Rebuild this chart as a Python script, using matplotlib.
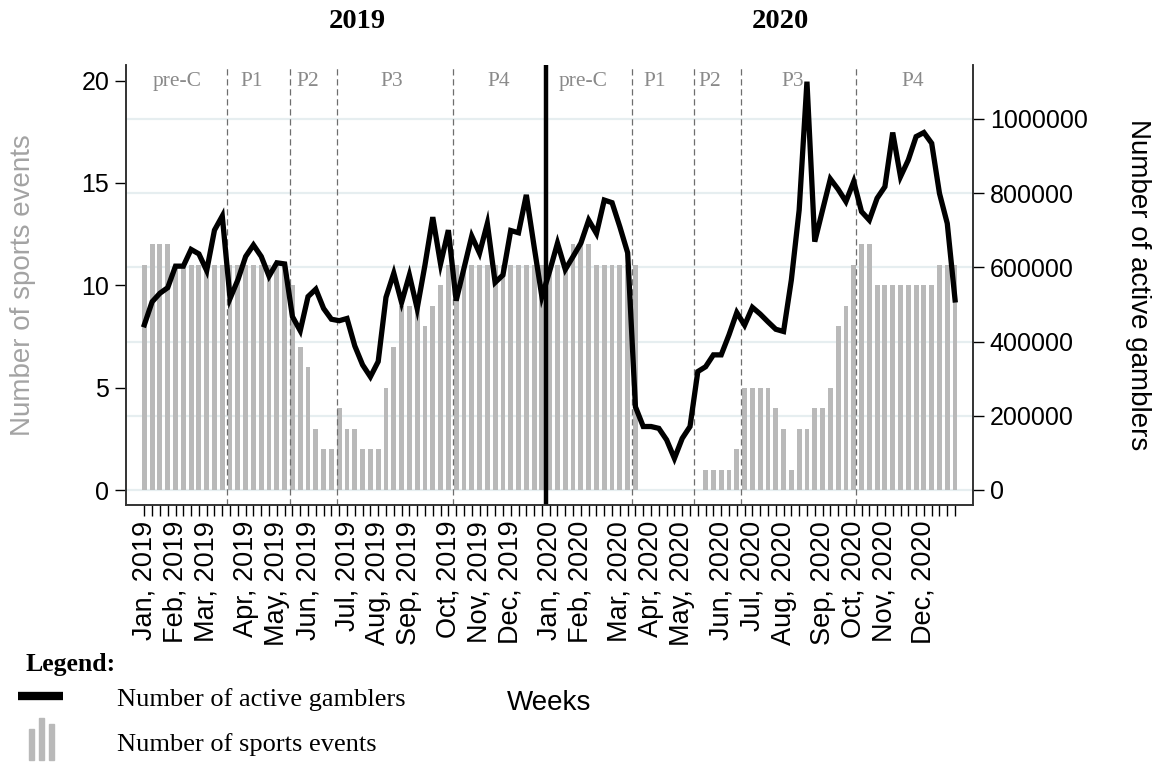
import matplotlib.pyplot as plt
import numpy as np
from matplotlib.lines import Line2D
from matplotlib.patches import Rectangle
from matplotlib.transforms import blended_transform_factory

# weekly series, 2019 week 0 .. 2020 week 104
sports_events = [
    11, 12, 12, 12, 11, 11, 11, 11, 11, 11, 11, 11, 11, 11, 11, 11, 11, 11, 11, 10,
    7, 6, 3, 2, 2, 4, 3, 3, 2, 2, 2, 5, 7, 9, 9, 9, 8, 9, 10, 11,
    11, 11, 11, 11, 11, 11, 11, 11, 11, 11, 11, 11,
    11, 11, 11, 12, 12, 12, 11, 11, 11, 11, 11, 11, 0, 0, 0, 0, 0, 0, 0, 0,
    1, 1, 1, 1, 2, 5, 5, 5, 5, 4, 3, 1, 3, 3, 4, 4, 5, 8, 9, 11,
    12, 12, 10, 10, 10, 10, 10, 10, 10, 10, 11, 11, 11,
]
active_gamblers = [
    445000, 507000, 530000, 545000, 603000, 603000, 648000, 636000, 591000, 700000,
    738000, 516000, 566000, 629000, 660000, 629000, 576000, 612000, 609000, 467000,
    429000, 521000, 541000, 489000, 460000, 456000, 462000, 388000, 337000, 305000,
    346000, 519000, 584000, 505000, 579000, 489000, 606000, 735000, 609000, 700000,
    510000, 597000, 684000, 638000, 718000, 559000, 579000, 699000, 693000, 795000,
    656000, 521000,
    590000, 665000, 594000, 629000, 665000, 727000, 691000, 781000, 774000, 709000,
    639000, 224000, 171000, 171000, 166000, 135000, 85000, 139000, 171000, 319000,
    332000, 364000, 364000, 418000, 478000, 444000, 492000, 474000, 453000, 433000,
    427000, 566000, 754000, 1100000, 669000, 754000, 838000, 810000, 777000, 831000,
    750000, 727000, 786000, 817000, 963000, 844000, 889000, 952000, 963000, 934000,
    799000, 718000, 512000,
]
weeks = np.arange(len(sports_events))

months = ["Jan", "Feb", "Mar", "Apr", "May", "Jun",
          "Jul", "Aug", "Sep", "Oct", "Nov", "Dec"]
month_weeks = [0, 4, 8, 13, 17, 21, 26, 30, 34, 39, 43, 47,
               52, 56, 61, 65, 69, 74, 78, 82, 87, 91, 95, 100]
month_labels = [f"{m}, {y}" for y in (2019, 2020) for m in months]

phase_breaks = [10.65, 18.65, 24.7, 39.65, 62.6, 70.5, 76.5, 91.3]
year_break = 51.55
phase_names = ["pre-C", "P1", "P2", "P3", "P4"] * 2
phase_label_x = [4.16, 13.78, 21.0, 31.74, 45.41, 56.28, 65.52, 72.57, 83.22, 98.6]

right_ticks = [0, 200000, 400000, 600000, 800000, 1000000]

W, H = 1158, 763
fig = plt.figure(figsize=(W / 100, H / 100), dpi=100)
ax = fig.add_axes([126 / W, 1 - 505.5 / H, (973 - 126) / W, (505.5 - 65) / H])
ax2 = ax.twinx()

sans = "Liberation Sans"
serif = "Liberation Serif"

ax.set_xlim(-2.35, 106.3)
ax.set_ylim(-0.757, 20.76)
ax2.set_ylim(-41800, 1144900)

# light grid from the right-hand scale, kept behind the bars
grid_tf = blended_transform_factory(ax.transAxes, ax2.transData)
for v in right_ticks:
    ax.plot([0, 1], [v, v], transform=grid_tf, color="#e6eef0", lw=1.6, zorder=0)

ax.bar(weeks, sports_events, width=0.62, color="#b9b9b9", zorder=1)

for b in phase_breaks:
    ax.axvline(b, color="#6e6e6e", lw=0.9, ls=(0, (5, 3)), zorder=2)
ax.axvline(year_break, color="black", lw=3.2, zorder=3)

for name, px in zip(phase_names, phase_label_x):
    ax.text(px, 0.962, name, transform=ax.get_xaxis_transform(), ha="center",
            va="center", fontsize=15.5, color="#8a8a8a", family=serif)

ax2.plot(weeks, active_gamblers, color="black", lw=3.8, solid_joinstyle="miter",
         zorder=4)

# axes styling
for a in (ax, ax2):
    a.spines["top"].set_visible(False)
    for s in ("left", "right", "bottom"):
        a.spines[s].set_color("#333333")
        a.spines[s].set_linewidth(1.2)

ax.set_yticks([0, 5, 10, 15, 20])
ax.tick_params(axis="y", labelsize=18, length=8, width=1, pad=4)
ax2.set_yticks(right_ticks)
ax2.set_yticklabels([str(v) for v in right_ticks])
ax2.tick_params(axis="y", labelsize=18, length=8, width=1, pad=4)

ax.set_xticks(weeks, minor=True)
ax.set_xticks(month_weeks)
ax.set_xticklabels(month_labels, rotation=90, fontsize=19.5, family=sans)
ax.tick_params(axis="x", which="both", length=8, width=1, pad=3)
for lab in ax.get_yticklabels() + ax2.get_yticklabels():
    lab.set_family(sans)

fig.text(23 / W, 1 - 285 / H, "Number of sports events", rotation=90,
         ha="center", va="center", fontsize=20, color="#a3a3a3", family=sans)
fig.text(1138 / W, 1 - 285 / H, "Number of active gamblers", rotation=270,
         ha="center", va="center", fontsize=20, color="black", family=sans)
fig.text(549 / W, 1 - 703 / H, "Weeks", ha="center", va="center",
         fontsize=20, family=sans)

fig.text(357 / W, 1 - 22 / H, "2019", ha="center", va="center", fontsize=20.5,
         fontweight="bold", family=serif)
fig.text(780 / W, 1 - 22 / H, "2020", ha="center", va="center", fontsize=20.5,
         fontweight="bold", family=serif)

# legend block
fig.text(25 / W, 1 - 664 / H, "Legend:", ha="left", va="center", fontsize=18.5,
         fontweight="bold", family=serif)
fig.add_artist(Line2D([18 / W, 63 / W], [1 - 696 / H, 1 - 696 / H],
                      color="black", lw=6, solid_capstyle="butt"))
fig.text(117 / W, 1 - 700 / H, "Number of active gamblers", ha="left",
         va="center", fontsize=19, family=serif)
for x0, top in ((29, 729), (39, 718), (49, 724)):
    fig.add_artist(Rectangle((x0 / W, 1 - 760 / H), 5 / W, (760 - top) / H,
                             color="#b9b9b9", transform=fig.transFigure))
fig.text(117 / W, 1 - 745 / H, "Number of sports events", ha="left",
         va="center", fontsize=19, family=serif)

fig.savefig("out.png", dpi=100)
